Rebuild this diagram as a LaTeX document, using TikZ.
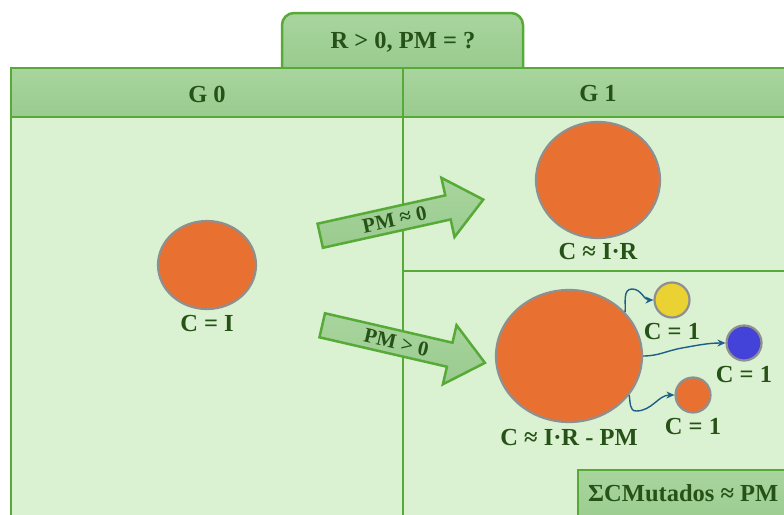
\documentclass[tikz,border=0pt]{standalone}
\usepackage{fontspec}
\setmainfont{Liberation Serif}
\usetikzlibrary{arrows.meta}
\usetikzlibrary{shapes.geometric}
\usetikzlibrary{shapes.arrows}

\definecolor{framegreen}{HTML}{58AA38}
\definecolor{headgreen}{HTML}{A8D59E}
\definecolor{headgreendark}{HTML}{9ACB8E}
\definecolor{bodygreen}{HTML}{DAF2D1}
\definecolor{textgreen}{HTML}{275217}
\definecolor{cellorange}{HTML}{E87131}
\definecolor{cellyellow}{HTML}{EBD233}
\definecolor{cellblue}{HTML}{4343D9}
\definecolor{rimgray}{HTML}{8F8F8F}
\definecolor{linkblue}{HTML}{1D5E8A}

\tikzset{
	frame/.style={draw=framegreen,line width=2.5pt},
	header/.style={frame,top color=headgreen,bottom color=headgreendark},
	cell/.style={ellipse,draw=rimgray,line width=2.2pt,inner sep=0pt},
	celltext/.style={text=textgreen,font=\fontsize{24.5}{26}\selectfont\bfseries,inner sep=2pt},
	blockarrow/.style={single arrow,frame,top color=headgreen,bottom color=headgreendark,
		single arrow head extend=18pt,single arrow tip angle=80,minimum height=167pt,
		inner ysep=4pt,text=textgreen,font=\fontsize{21}{22}\selectfont\bfseries,anchor=tail},
	link/.style={draw=linkblue,line width=1.4pt,-{Stealth[length=8pt,width=7pt]}}
}

\begin{document}
\begin{tikzpicture}[x=1pt,y=-1pt]
	\useasboundingbox (0,0) rectangle (784,514);
	\clip (0,0) rectangle (784,514);
	%Tab on top
	\draw [header,rounded corners=12pt] (282,69) -- (282,13) -- (523,13) -- (523,69);
	\node [celltext] (cond) at (403,42) {R > 0, PM = ?};
	%Body of the table
	\fill [bodygreen] (11,117) rectangle (800,530);
	\draw [header] (11,68) rectangle (800,117);
	\draw [frame] (11,117) -- (11,530);
	\draw [frame] (403,68) -- (403,530);
	\draw [frame] (403,271) -- (800,271);
	\node [celltext] (g0) at (207,94) {G 0};
	\node [celltext] (g1) at (598,94) {G 1};

	%Generation 0
	\node [cell,fill=cellorange,minimum width=98pt,minimum height=88pt] (c0) at (207,265) {};
	\node [celltext,below=3pt] (c0lab) at (c0.south) {C = I};

	%Arrows between generations
	\node [blockarrow,rotate=12.5] (pmzero) at (319,236) {PM ≈ 0};
	\node [blockarrow,rotate=-13] (pmpos) at (321,325) {PM > 0};

	%Generation 1, no mutation
	\node [cell,fill=cellorange,minimum width=124pt,minimum height=116pt] (c1) at (598,180) {};
	\node [celltext,below=2pt] (c1lab) at (c1.south) {C ≈ I·R};

	%Generation 1, with mutation
	\node [cell,fill=cellorange,minimum width=146pt,minimum height=132pt] (c2) at (569,356) {};
	\node [celltext,below=4pt] (c2lab) at (c2.south) {C ≈ I·R - PM};
	\node [cell,fill=cellyellow,minimum width=35pt,minimum height=35pt] (m1) at (672,300) {};
	\node [celltext,below=2pt] (m1lab) at (m1.south) {C = 1};
	\node [cell,fill=cellblue,minimum width=35pt,minimum height=35pt] (m2) at (744,343) {};
	\node [celltext,below=2pt] (m2lab) at (m2.south) {C = 1};
	\node [cell,fill=cellorange,minimum width=35pt,minimum height=35pt] (m3) at (693,395) {};
	\node [celltext,below=2pt] (m3lab) at (m3.south) {C = 1};
	\draw [link] (c2.38) to [out=85,in=180] (632,289) to [out=0,in=180] (m1.west);
	\draw [link] (c2.east) to [out=0,in=190] (682,348) to [out=10,in=180] (m2.west);
	\draw [link] (c2.-33) to [out=-80,in=180] (636,411) to [out=0,in=180] (m3.west);

	%Sum of mutated cells
	\draw [header] (578,470) rectangle (800,530);
	\node [celltext,anchor=west] (total) at (586,493) {ΣCMutados ≈ PM};
\end{tikzpicture}
\end{document}
